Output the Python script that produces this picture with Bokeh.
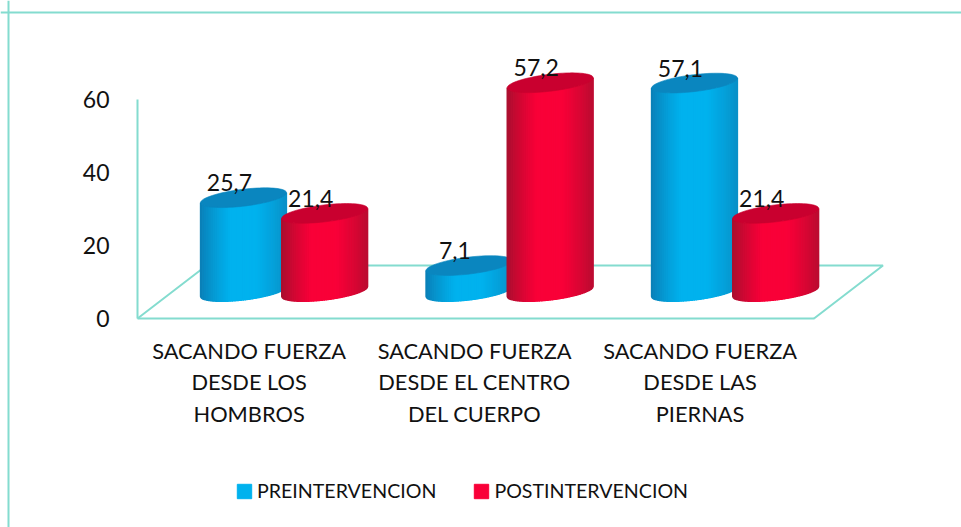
import numpy as np
from bokeh.embed import file_html
from bokeh.resources import INLINE
from bokeh.plotting import figure
from bokeh.models import (FixedTicker, Legend, LegendItem, LinearAxis, Range1d, Span)
from bokeh.core.properties import value

categories = ["SACANDO FUERZA\nDESDE LOS\nHOMBROS",
              "SACANDO FUERZA\nDESDE EL CENTRO\nDEL CUERPO",
              "SACANDO FUERZA\nDESDE LAS\nPIERNAS"]
pre_values = [25.7, 7.1, 57.1]
post_values = [21.4, 57.2, 21.4]
y_ticks = [0, 20, 40, 60]
series_names = ["PREINTERVENCION", "POSTINTERVENCION"]

W, H = 961, 527
SX, SY = 225.5, 3.65          # pixels per category / per unit
X0, Y0 = 137, 318             # position of data origin within the figure
FONT = "Lato"
TEAL = "#84dccf"

p = figure(width=W, height=H, output_backend="svg", toolbar_location=None,
           x_range=Range1d(-X0 / SX, (W - X0) / SX),
           y_range=Range1d((Y0 - H) / SY, Y0 / SY),
           x_axis_type=None, y_axis_type=None,
           min_border=0, outline_line_color=None, background_fill_color="white")
p.grid.visible = False


def hx(px):
    return px / SX


def hy(px):
    return px / SY


# frame of the chart
p.add_layout(Span(location=(Y0 - 12) / SY, dimension="width", line_color=TEAL, line_width=2))
p.add_layout(Span(location=(8 - X0) / SX, dimension="height", line_color=TEAL, line_width=2))

# floor of the 3-D box (back and side edges); depth offsets in pixels
DX, DY = 69, 53
p.line([0, hx(DX), 3 + hx(DX), 3], [0, hy(DY), hy(DY), 0], line_color=TEAL, line_width=2)

# axes
yax = LinearAxis(fixed_location=0, ticker=FixedTicker(ticks=y_ticks), bounds=(0, 60),
                 axis_line_color=TEAL, axis_line_width=2,
                 major_tick_line_color=None, minor_tick_line_color=None,
                 major_label_text_font=FONT, major_label_text_font_size="23px",
                 major_label_text_color="#111111", major_label_standoff=22)
p.add_layout(yax, "left")
tick_pos = [0.495, 1.495, 2.495]
xax = LinearAxis(fixed_location=0, ticker=FixedTicker(ticks=tick_pos), bounds=(0, 3),
                 major_label_overrides=dict(zip(tick_pos, categories)),
                 axis_line_color=TEAL, axis_line_width=2,
                 major_tick_line_color=None, minor_tick_line_color=None,
                 major_label_text_font=FONT, major_label_text_font_size="21.8px",
                 major_label_text_color="#111111", major_label_standoff=12,
                 major_label_text_line_height=1.175)
p.add_layout(xax, "below")

# cylinder geometry, pixels
A, B, K = 43, 8.5, 5
BASE_UP = 27          # base centre above the axis zero
LABEL_DX, LABEL_DY = -14, 15
N_STRIPS = 40


def mix(c1, c2, t):
    a = np.array([int(c1[i:i + 2], 16) for i in (1, 3, 5)], float)
    b = np.array([int(c2[i:i + 2], 16) for i in (1, 3, 5)], float)
    v = (a + (b - a) * t).round().astype(int)
    return "#%02x%02x%02x" % tuple(v)


def cylinder(cx, v, edge_l, edge_r, bright, top_color):
    """cx in category units, v in data units."""
    xs, ys, cols = [], [], []
    base = hy(BASE_UP)
    us = np.linspace(-1, 1, N_STRIPS + 1)
    for u1, u2 in zip(us[:-1], us[1:]):
        uu = np.linspace(u1, u2, 5)
        low = -B * np.sqrt(np.clip(1 - uu ** 2, 0, 1)) + K * uu
        x = cx + hx(A) * np.concatenate([uu, uu[::-1]])
        y = np.concatenate([base + hy(low), (base + v + hy(low))[::-1]])
        xs.append(x.tolist())
        ys.append(y.tolist())
        um = (u1 + u2) / 2
        if um < -0.1:
            t = min(1, (um + 1) / 0.7)
            cols.append(mix(edge_l, bright, t ** 0.8))
        else:
            t = min(1, (1 - um) / 0.7)
            cols.append(mix(edge_r, bright, t ** 0.8))
    # one solid silhouette under the strips hides anti-aliasing seams
    mid = (len(xs) - 1) // 2
    ou = np.linspace(-1, 1, 60)
    olow = -B * np.sqrt(np.clip(1 - ou ** 2, 0, 1)) + K * ou
    p.patch(cx + hx(A) * np.concatenate([ou, ou[::-1]]),
            np.concatenate([base + hy(olow), (base + v + hy(olow))[::-1]]),
            fill_color=cols[mid], line_color=None)
    p.patches(xs, ys, fill_color=cols, line_color=cols, line_width=1.3)
    t = np.linspace(0, 2 * np.pi, 80)
    ex = cx + hx(A) * np.cos(t)
    ey = base + v + hy(B * np.sin(t) + K * np.cos(t))
    p.patch(ex, ey, fill_color=top_color, line_color=top_color, line_width=0.6)


BLUE = ("#0b7db4", "#0a8fc6", "#00b2ee", "#0a86bf")
RED = ("#a5102e", "#b80c30", "#f90038", "#c9002f")
OFFS = (0.47, 0.83)

for i, (a, b) in enumerate(zip(pre_values, post_values)):
    cylinder(i + OFFS[0], a, *BLUE)
    cylinder(i + OFFS[1], b, *RED)

lab_x, lab_y, lab_t = [], [], []
for i, (a, b) in enumerate(zip(pre_values, post_values)):
    for off, v in zip(OFFS, (a, b)):
        lab_x.append(i + off + hx(LABEL_DX))
        lab_y.append(hy(BASE_UP) + v + hy(LABEL_DY))
        lab_t.append(f"{v:.1f}".replace(".", ","))
p.text(lab_x, lab_y, text=lab_t, text_font=value(FONT), text_font_size="23px",
       text_align="center", text_baseline="middle", text_color="#111111")

# legend: box swatches with no visible data
nan = float("nan")
s1 = p.quad(left=[nan], right=[nan], top=[nan], bottom=[nan], fill_color=BLUE[2], line_color=BLUE[2])
s2 = p.quad(left=[nan], right=[nan], top=[nan], bottom=[nan], fill_color=RED[2], line_color=RED[2])
legend = Legend(items=[LegendItem(label=series_names[0], renderers=[s1]),
                       LegendItem(label=series_names[1], renderers=[s2])],
                location=(235, 25), orientation="horizontal",
                border_line_color=None, background_fill_alpha=0,
                glyph_width=18, glyph_height=18, label_standoff=4, spacing=36,
                padding=0, margin=0,
                label_text_font=FONT, label_text_font_size="19.6px", label_text_color="#111111")
p.add_layout(legend, "center")

open("out.html", "w").write(file_html(p, INLINE))
